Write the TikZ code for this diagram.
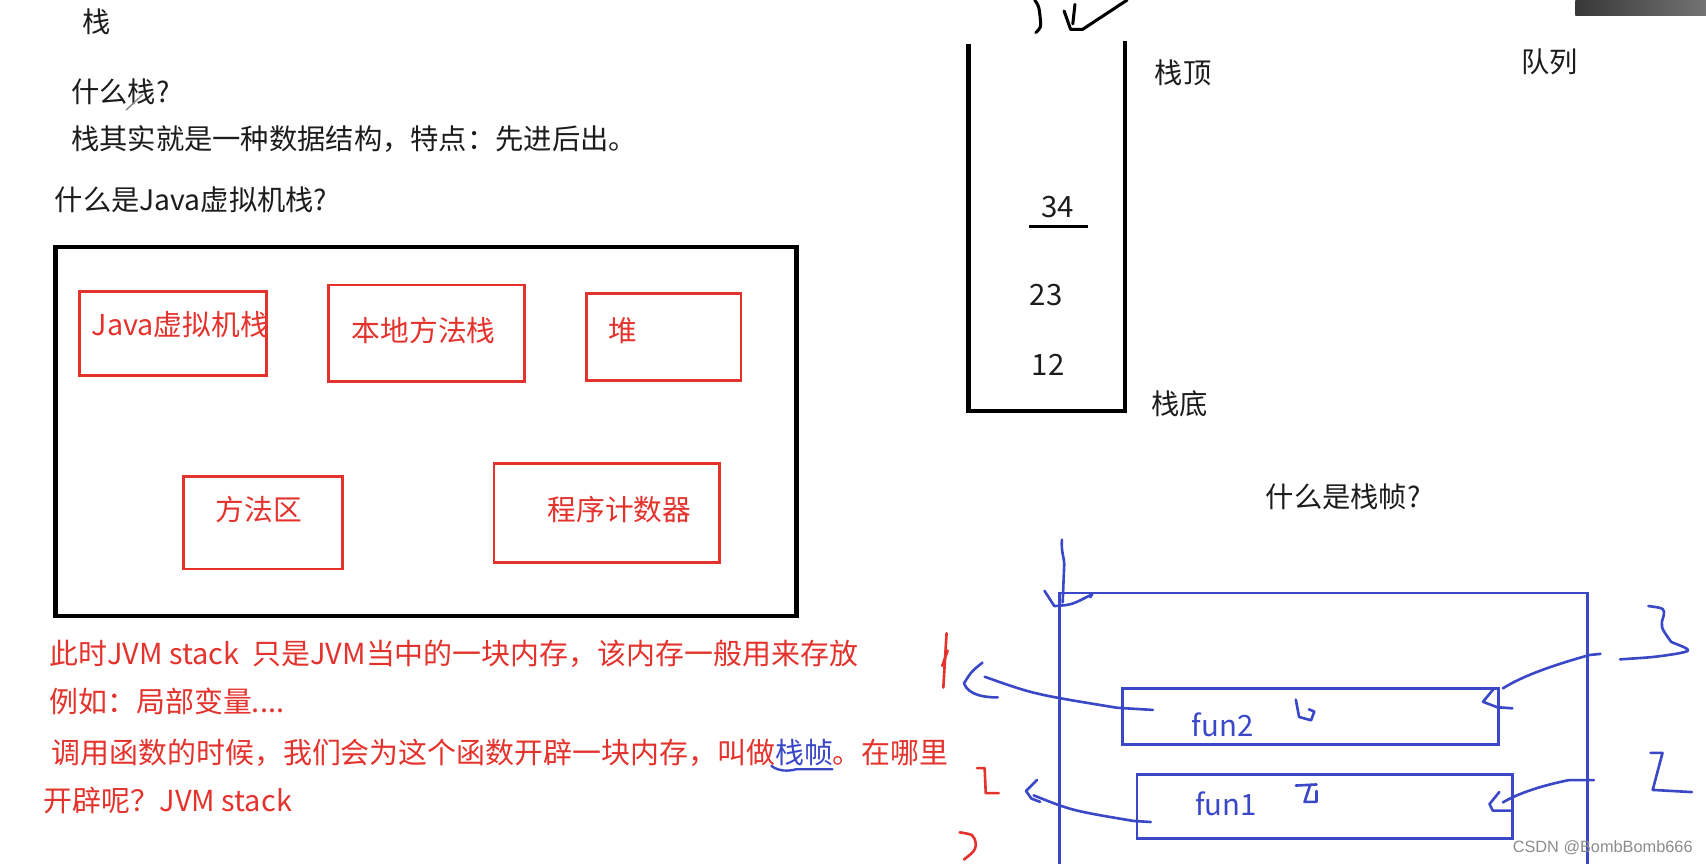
\documentclass[tikz,border=0pt]{standalone}
\usepackage{fontspec}
\setmainfont{Noto Sans CJK SC}
\newfontfamily\wmfont{Liberation Sans}
\usetikzlibrary{fit,calc}
\definecolor{ink}{RGB}{28,28,28}
\definecolor{redink}{RGB}{228,50,44}
\definecolor{blueink}{RGB}{58,72,200}
\definecolor{wmgray}{RGB}{140,140,140}
\begin{document}
\begin{tikzpicture}[x=0.5pt,y=-0.5pt,
  txt/.style={anchor=west, inner sep=0pt, text=ink, font=\fontsize{13}{15}\selectfont},
  redtxt/.style={anchor=west, inner sep=0pt, text=redink, font=\fontsize{13.3}{16}\selectfont},
  boxlbl/.style={anchor=west, inner sep=0pt, text=redink, font=\fontsize{13.2}{16}\selectfont},
  bluetxt/.style={anchor=west, inner sep=0pt, text=blueink, font=\fontsize{13.5}{16}\selectfont},
  redbox/.style={draw=redink, line width=1.3pt, inner sep=0pt},
  bluebox/.style={draw=blueink, line width=1.3pt, inner sep=0pt},
  blackbox/.style={draw=black, line width=2pt, inner sep=0pt},
  pen/.style={line width=1.2pt, line cap=round, line join=round},
  bluepen/.style={pen, draw=blueink},
  redpen/.style={pen, draw=redink},
  blackpen/.style={pen, draw=black, line width=1.4pt},
]
\path[use as bounding box] (0,0) rectangle (1568,794);
\clip (0,0) rectangle (1568,794);
\fill[white] (0,0) rectangle (1568,794);

% ---------- top-left texts ----------
\node[txt] (title) at (75,20) {栈};
\node[txt] (q1) at (65,84) {什么栈?};
\draw[gray, line width=0.6pt, line cap=round] (116,101) -- (131,87);
\node[txt] (a1) at (65,128) {栈其实就是一种数据结构，特点：先进后出。};
\node[txt] (q2) at (50,184) {什么是Java虚拟机栈?};

% ---------- JVM boxes ----------
\node[blackbox, fit={(51,227) (732,566)}] (jvmall) {};
\node[redbox, fit={(73,268) (245,345)}] (jvms) {};
\node[boxlbl] (jvmsl) at (84,298) {Java虚拟机栈};
\node[redbox, fit={(302,262) (482,351)}] (natv) {};
\node[boxlbl] (natvl) at (323,304) {本地方法栈};
\node[redbox, fit={(539,270) (681,350)}] (heap) {};
\node[boxlbl] (heapl) at (559,304) {堆};
\node[redbox, fit={(169,438) (315,523)}] (meth) {};
\node[boxlbl] (methl) at (198,468) {方法区};
\node[redbox, fit={(454,426) (661,517)}] (pc) {};
\node[boxlbl] (pcl) at (503,468) {程序计数器};

% ---------- red explanation ----------
\node[redtxt] (r1) at (45,601) {此时JVM stack\ \ 只是JVM当中的一块内存，该内存一般用来存放};
\node[redtxt] (r2) at (45,645) {例如：局部变量....};
\node[redtxt] (r3) at (47,692) {调用函数的时候，我们会为这个函数开辟一块内存，叫做{\color{blueink}栈帧}。在哪里};
\node[redtxt] (r4) at (40,736) {开辟呢？JVM stack};
\draw[bluepen, line width=1.1pt] (709,704) .. controls (716,709) and (724,709) .. (732,707) -- (765,707);

% ---------- stack ----------
\coordinate (stl) at (890,40);
\coordinate (sbl) at (890,378);
\coordinate (sbr) at (1034,378);
\coordinate (str) at (1034,38);
\draw[line width=2pt, black] (stl) -- (sbl) -- (sbr) -- (str);
\node[txt, font=\fontsize{13.5}{16}\selectfont] (n34) at (957,190) {34};
\coordinate (ul1) at (946,208);
\coordinate (ul2) at (1000,208);
\draw[black, line width=1.2pt] (ul1) -- (ul2);
\node[txt, font=\fontsize{13.5}{16}\selectfont] (n23) at (946,271) {23};
\node[txt, font=\fontsize{13.5}{16}\selectfont] (n12) at (948,335) {12};
\node[txt] (top) at (1061,67) {栈顶};
\node[txt] (bot) at (1058,371) {栈底};
\node[txt] (queue) at (1398,57) {队列};
% hand strokes above the stack
\draw[blackpen] (951,0) .. controls (955,6) .. (956,16) .. controls (957,25) .. (952,30);
\draw[blackpen] (978,10) -- (984,27) -- (995,27) -- (1036,0);
\draw[blackpen] (988,4) -- (986,22);

% top-right gradient bar
\shade[left color=black!78, right color=black!55] (1448,0) rectangle (1568,14);

% ---------- stack frames ----------
\node[txt] (q3) at (1163,457) {什么是栈帧?};
\node[bluebox, fit={(974,545) (1459,830)}] (frame) {};
\node[bluebox, fit={(1032,633) (1377,684)}] (fun2) {};
\node[bluetxt] (fun2l) at (1095,666) {fun2};
\node[bluebox, fit={(1045,712) (1390,771)}] (fun1) {};
\node[bluetxt] (fun1l) at (1098,739) {fun1};

% push arrow into the frame
\coordinate (pushin) at (976,496);
\draw[bluepen] (pushin) .. controls (975,508) and (979,514) .. (978,522) -- ($(frame.north west)+(4,10)$);
\draw[bluepen] (960,543) -- (969,557) .. controls (985,556) .. (1004,546) -- (1002,549);

% fun2 -> left (1)
\coordinate (out2) at (905,622);
\draw[bluepen] ($(fun2.west)+(29,-6)$) -- ($(fun2.west)+(-4,-8)$) .. controls (950,638) .. (out2);
\draw[bluepen] (903,609) .. controls (893,617) .. (886,628) .. controls (890,639) and (905,641) .. (917,641);

% fun1 -> left (1)
\coordinate (out1) at (950,731);
\draw[bluepen] ($(fun1.west)+(14,14)$) -- ($(fun1.west)+(-2,13)$) .. controls (985,745) .. (out1);
\draw[bluepen] (953,717) -- (943,727) -- (948,734) -- (956,737);

% 3 -> fun2
\coordinate (in3) at (1471,601);
\draw[bluepen] (in3) -- (1461,602) .. controls (1425,612) and (1398,622) .. ($(fun2.north east)+(3,1)$);
\draw[bluepen] (1373,633) -- (1363,645) -- (1376,650) -- (1390,651);

% 2 -> fun1
\coordinate (in2) at (1465,717);
\draw[bluepen] (in2) -- (1442,717) .. controls (1412,723) and (1392,731) .. ($(fun1.east)+(-10,-4)$);
\draw[bluepen] (1378,728) -- (1369,739) -- (1372,745) -- (1390,745);

% hand-written digits (blue)
\draw[bluepen] (1515,557) .. controls (1530,559) .. (1529,566) .. controls (1526,576) .. (1536,590) .. controls (1556,598) .. (1540,601) .. controls (1520,604) .. (1489,606);
\draw[bluepen] (1517,692) -- (1528,692) -- (1519,726) -- (1555,728);
% scribbles inside the frames
\draw[bluepen] (1191,643) -- (1194,659) -- (1205,662) -- (1208,654) -- (1203,652);
\draw[bluepen] (1191,722) -- (1210,721);
\draw[bluepen] (1204,722) -- (1199,737) -- (1210,737) -- (1210,727);

% hand-written marks (red)
\draw[redpen] (870,582) -- (867,632);
\draw[redpen] (866,612) -- (871,598);
\draw[redpen] (898,706) -- (905,706) -- (906,729) -- (918,729);
\draw[redpen] (882,765) .. controls (895,767) .. (897,776) .. controls (896,782) .. (886,790);

% watermark
\node[anchor=west, inner sep=0pt, text=wmgray, font=\wmfont\fontsize{7.5}{9}\selectfont] (wm) at (1390,779) {CSDN @BombBomb666};
\end{tikzpicture}
\end{document}
